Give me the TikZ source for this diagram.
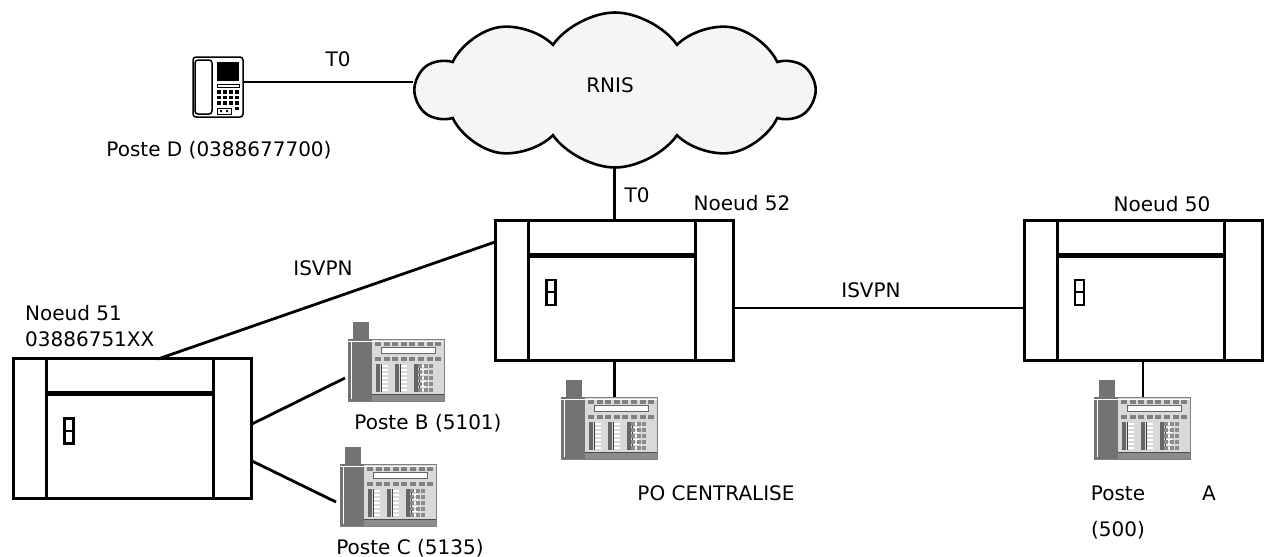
\documentclass[tikz,border=0pt]{standalone}
\usepackage{fontspec}
\setmainfont{DejaVu Sans}
\usetikzlibrary{shapes.symbols}
\begin{document}
\begin{tikzpicture}[x=1pt,y=-1pt,
  lbl/.style={font=\fontsize{20}{22}\selectfont, inner sep=1pt},
  wire/.style={line width=2.8pt},
  sw/.style={draw, line width=3pt, minimum width=238pt, minimum height=140pt, inner sep=0pt},
  pics/switch/.style={code={
    \draw[line width=3pt] (-86,-70) -- (-86,70) (81,-70) -- (81,70);
    \draw[line width=5pt] (-86,-35) -- (81,-35);
    \draw[line width=2.6pt, fill=white] (-68,-10) rectangle (-59,15);
    \draw[line width=2pt] (-68,2) -- (-59,2);
  }},
  pics/phone/.style={code={
    \fill[black!55] (5,0) rectangle (21,17);
    \fill[black!15] (0,17) rectangle (96,79);
    \draw[black!50, line width=0.6pt] (0,17) rectangle (96,79);
    \fill[black!55] (0,17) rectangle (24,79);
    \draw[white, line width=1pt] (0,19) -- (96,19);
    \draw[white, line width=0.8pt] (3,19) -- (3,77);
    \foreach \i in {0,...,7} {\fill[black!50] (27+\i*8.6,20) rectangle (33+\i*8.6,24);
      \fill[black!50] (27+\i*8.6,35) rectangle (33+\i*8.6,39);}
    \draw[black!60, fill=white, line width=0.8pt] (33,25) rectangle (87,31);
    \foreach \c in {0,1,2} {\fill[black!60] (28+\c*19,42) rectangle (32+\c*19,70);
      \foreach \r in {0,...,6} {\fill[white] (33+\c*19,43+\r*4) rectangle (40+\c*19,45+\r*4);}
      \fill[black!75] (33+\c*19,42) rectangle (34+\c*19,70);}
    \foreach \c in {0,1,2} {\foreach \r in {0,...,4} {
      \fill[black!45] (80+\c*5.5-10,42+\r*6) rectangle (84+\c*5.5-10,46+\r*6);}}
    \fill[black!45] (24,72) rectangle (96,79);
    \draw[black!70, line width=0.6pt] (24,72) -- (96,72);
  }},
  pics/deskphone/.style={code={
    \draw[line width=1.5pt, rounded corners=3pt] (0,0) rectangle (50,60);
    \draw[line width=1.5pt, rounded corners=3pt] (2,3) rectangle (19,57);
    \fill (24,5) rectangle (46,24);
    \draw[line width=0.8pt] (24,27) rectangle (46,30);
    \foreach \r in {0,1,2} {\foreach \c in {0,1,2} {\fill (24+\c*6,33+\r*5.5) rectangle (28+\c*6,36.5+\r*5.5);}}
    \foreach \r in {0,1,2,3} {\fill (42,33+\r*5.5) rectangle (46,36.5+\r*5.5);}
    \draw[line width=1pt] (24,51) rectangle (38,57);
    \fill (27,53) rectangle (29,55) (33,53) rectangle (35,55);
  }}]
\useasboundingbox (0,0) rectangle (1267,557);

\node[cloud, draw, line width=2.6pt, fill=black!4, cloud puffs=10, cloud puff arc=110,
  aspect=2.5, minimum width=397pt, minimum height=155pt, inner sep=0pt] (rnis) at (615,90) {};
\node[lbl] at (610,85) {RNIS};

\pic at (193,57) {deskphone};
\coordinate (pd) at (243,82);
\draw[wire] (pd) -- (rnis.west |- pd) coordinate (rw);
\node[lbl] at (338,59) {T0};
\node[lbl] at (219,150) {Poste D (0388677700)};

\node[sw] (n52) at (614.5,290) {};
\pic at (n52) {switch};
\node[sw] (n50) at (1143,290) {};
\pic at (n50) {switch};
\node[sw] (n51) at (132.5,428.5) {};
\pic at (n51) {switch};

\node[lbl] at (742,203) {Noeud 52};
\node[lbl] at (1162,204) {Noeud 50};
\node[lbl, anchor=west] at (24,313) {Noeud 51};
\node[lbl, anchor=west] at (24,339) {03886751XX};

\draw[wire] (rnis.south -| n52.north) -- (n52.north);
\node[lbl] at (637,195) {T0};

\coordinate (n51a) at (158,359);
\coordinate (n52a) at (495,242);
\draw[wire] (n51a) -- (n52a);
\node[lbl] at (323,268) {ISVPN};
\coordinate (n52b) at (734,308);
\draw[wire] (n52b) -- (n52b -| n50.west);
\node[lbl] at (871,290) {ISVPN};

\pic at (348,322) {phone};
\coordinate (pB) at (345,378);
\coordinate (sB) at (252,424);
\draw[wire] (sB) -- (pB);
\node[lbl] at (428,423) {Poste B (5101)};

\pic at (340,447) {phone};
\coordinate (pC) at (336,502);
\coordinate (sC) at (252,461);
\draw[wire] (sC) -- (pC);
\node[lbl] at (410,548) {Poste C (5135)};

\pic at (561,380) {phone};
\coordinate (pPO) at (614.5,397);
\draw[wire] (n52.south) -- (pPO);
\node[lbl] at (716,493) {PO CENTRALISE};

\pic at (1094,380) {phone};
\coordinate (pA) at (1143,397);
\draw[wire] (n50.south) -- (pA);
\node[lbl] at (1118,493) {Poste};
\node[lbl] at (1209,493) {A};
\node[lbl] at (1118,530) {(500)};
\end{tikzpicture}
\end{document}
